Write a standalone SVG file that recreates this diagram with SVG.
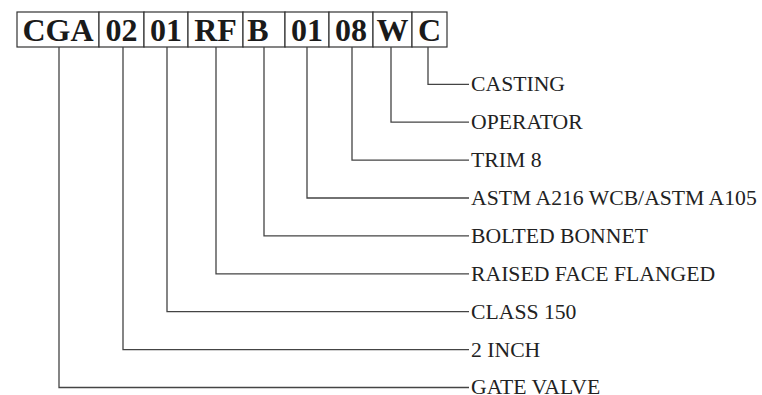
<svg xmlns="http://www.w3.org/2000/svg" width="762" height="395" viewBox="0 0 762 395">
<style>
.box{fill:#fff;stroke:#333;stroke-width:1.2}
.code{font-family:"Liberation Serif","Times New Roman",serif;font-weight:bold;font-size:32px;fill:#1a1a1a;text-anchor:middle}
.lbl{font-family:"Liberation Serif","Times New Roman",serif;font-size:21.7px;fill:#222}
.conn{fill:none;stroke:#444;stroke-width:1.3}
</style>
<rect width="762" height="395" fill="#fff"/>
<g id="code">
<g id="seg-CGA"><rect class="box" x="17" y="12" width="82" height="35"/><text class="code" x="58" y="41">CGA</text></g>
<g id="seg-02"><rect class="box" x="99" y="12" width="45" height="35"/><text class="code" x="121.5" y="41">02</text></g>
<g id="seg-01a"><rect class="box" x="144" y="12" width="44" height="35"/><text class="code" x="166" y="41">01</text></g>
<g id="seg-RF"><rect class="box" x="188" y="12" width="55" height="35"/><text class="code" x="215.5" y="41">RF</text></g>
<g id="seg-B"><rect class="box" x="243" y="12" width="42" height="35"/><text class="code" x="258" y="41">B</text></g>
<g id="seg-01b"><rect class="box" x="285" y="12" width="44" height="35"/><text class="code" x="307" y="41">01</text></g>
<g id="seg-08"><rect class="box" x="329" y="12" width="44" height="35"/><text class="code" x="351" y="41">08</text></g>
<g id="seg-W"><rect class="box" x="373" y="12" width="39" height="35"/><text class="code" x="392.5" y="41">W</text></g>
<g id="seg-C"><rect class="box" x="412" y="12" width="35" height="35"/><text class="code" x="429.5" y="41">C</text></g>
</g>
<g id="connectors">
<path class="conn" d="M428,47V84.3H469"/>
<path class="conn" d="M391,47V122.2H469"/>
<path class="conn" d="M352,47V160.1H469"/>
<path class="conn" d="M307,47V198H469"/>
<path class="conn" d="M264,47V235.9H469"/>
<path class="conn" d="M216,47V273.8H469"/>
<path class="conn" d="M167,47V311.7H469"/>
<path class="conn" d="M123,47V349.6H469"/>
<path class="conn" d="M59,47V387.5H469"/>
</g>
<g id="label-casting"><text class="lbl" x="471" y="91.3">CASTING</text></g>
<g id="label-operator"><text class="lbl" x="471" y="129.2">OPERATOR</text></g>
<g id="label-trim"><text class="lbl" x="471" y="167.1">TRIM 8</text></g>
<g id="label-material"><text class="lbl" x="471" y="205">ASTM A216 WCB/ASTM A105</text></g>
<g id="label-bonnet"><text class="lbl" x="471" y="242.9">BOLTED BONNET</text></g>
<g id="label-face"><text class="lbl" x="471" y="280.8">RAISED FACE FLANGED</text></g>
<g id="label-class"><text class="lbl" x="471" y="318.7">CLASS 150</text></g>
<g id="label-size"><text class="lbl" x="471" y="356.6">2 INCH</text></g>
<g id="label-type"><text class="lbl" x="471" y="394">GATE VALVE</text></g>
</svg>
